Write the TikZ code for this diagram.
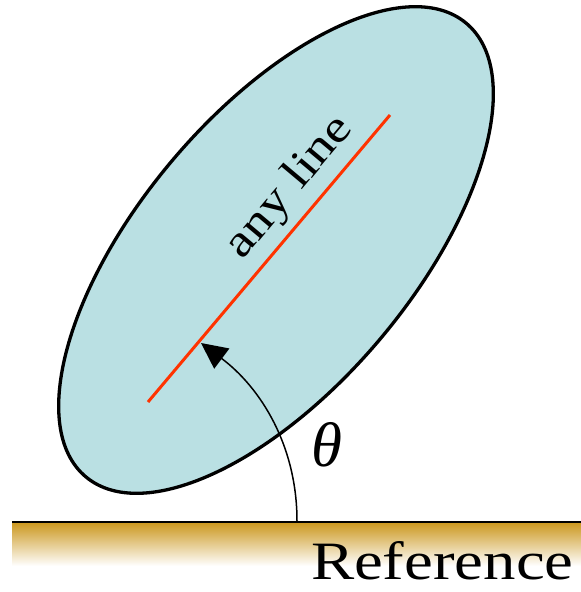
\documentclass[tikz,border=0pt]{standalone}
\usepackage{fontspec}
\setmainfont{Liberation Serif}
\newfontfamily\widefont[FakeStretch=1.2]{Liberation Serif}
\usetikzlibrary{arrows.meta}
\definecolor{blobfill}{RGB}{186,224,227}
\definecolor{redline}{RGB}{255,51,0}
\definecolor{gold}{RGB}{204,153,34}
\tikzset{
  blob/.style={draw=black, line width=3.3pt, fill=blobfill},
  anyline/.style={draw=redline, line width=3pt},
  anglearrow/.style={draw=black, line width=1.5pt, -{Triangle[length=26pt,width=25pt]}},
  lbl/.style={inner sep=0pt, outer sep=0pt}
}
\begin{document}
\begin{tikzpicture}[x=1pt,y=-1pt]
\useasboundingbox (0,0) rectangle (581,592);
% ellipse
\draw[blob, rotate around={50:(276,250)}] (276,250) ellipse [x radius=296pt, y radius=137pt];
% red line
\coordinate (lineA) at (148,402);
\coordinate (lineB) at (390,115);
\draw[anyline] (lineA) -- (lineB);
\node[lbl, rotate=50] (anyl) at (290,188) {\widefont\fontsize{45}{50}\selectfont any line};
% reference bar
\shade[top color=gold, bottom color=white] (12,523) rectangle (581,566);
\draw[line width=2.5pt] (12,522) -- (581,522);
\coordinate (start) at (297,521);
\coordinate (tip) at (201,343);
\draw[anglearrow] (start) .. controls (297,446) and (261,388) .. (tip);
\node[lbl] (theta) at (327,445) {\fontsize{63}{68}\selectfont\itshape θ};
\node[lbl, anchor=base west] (ref) at (311,579) {\widefont\fontsize{54}{60}\selectfont Reference};
\end{tikzpicture}
\end{document}
